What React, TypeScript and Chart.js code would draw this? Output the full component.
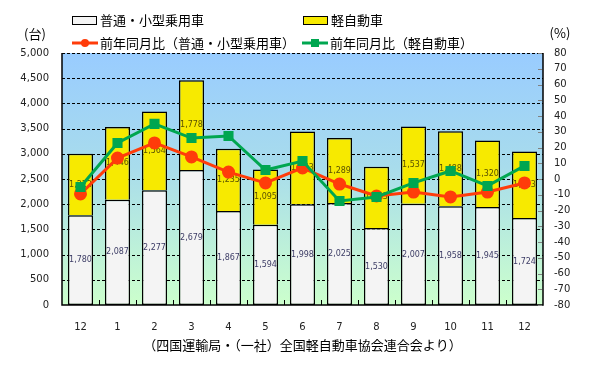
import { useEffect, useRef } from "react";
import { Chart, registerables } from "chart.js";

Chart.register(...registerables);

const months = ["12", "1", "2", "3", "4", "5", "6", "7", "8", "9", "10", "11", "12"];
const passengerCars = [1780, 2087, 2277, 2679, 1867, 1594, 1998, 2025, 1530, 2007, 1958, 1945, 1724];
const keiCars = [1222, 1446, 1564, 1778, 1235, 1095, 1443, 1289, 1213, 1537, 1488, 1320, 1323];
const passengerYoY = [-9.5, 13.3, 22.9, 14.0, 4.4, -2.5, 7.0, -3.2, -10.8, -8.3, -11.4, -8.3, -2.5];
const keiYoY = [-5.1, 22.9, 35.0, 26.0, 27.3, 5.7, 11.4, -14.0, -11.4, -2.5, 5.1, -4.4, 8.3];

const seriesLabels = ["普通・小型乗用車", "軽自動車", "前年同月比（普通・小型乗用車）", "前年同月比（軽自動車）"];
const leftUnit = "(台)";
const rightUnit = "(%)";
const sourceNote = "（四国運輸局・（一社）全国軽自動車協会連合会より）";

const JP = '"Noto Sans CJK JP", sans-serif';
const NUM = '"DejaVu Sans", sans-serif';

const WHITE = "#F4F4F4";
const YELLOW = "#F7EA00";
const RED = "#FF3C0A";
const GREEN = "#00A650";

const decor = {
  id: "decor",
  beforeDatasetsDraw(chart: any) {
    const { ctx, chartArea: a } = chart;
    const g = ctx.createLinearGradient(0, a.top, 0, a.bottom);
    g.addColorStop(0, "#99CCFF");
    g.addColorStop(0.45, "#A8DCEC");
    g.addColorStop(1, "#CCFFCC");
    ctx.save();
    ctx.fillStyle = g;
    ctx.fillRect(a.left, a.top, a.right - a.left, a.bottom - a.top);
    const y = chart.scales.y;
    ctx.strokeStyle = "#000";
    ctx.lineWidth = 1;
    ctx.setLineDash([3, 2]);
    y.ticks.forEach((t: any) => {
      if (t.value <= y.min) return;
      const py = Math.round(y.getPixelForValue(t.value)) + 0.5;
      ctx.beginPath();
      ctx.moveTo(a.left, py);
      ctx.lineTo(a.right, py);
      ctx.stroke();
    });
    ctx.restore();
  },
  afterDatasetDraw(chart: any, args: any) {
    const ds = chart.data.datasets[args.index];
    if (ds.type !== "bar") return;
    const meta = chart.getDatasetMeta(args.index);
    const ctx = chart.ctx;
    ctx.save();
    ctx.font = `8px ${NUM}`;
    ctx.textAlign = "center";
    ctx.textBaseline = "middle";
    ctx.fillStyle = ds.label === seriesLabels[0] ? "#3D3D66" : "#5A5200";
    meta.data.forEach((el: any, i: number) => {
      const y = (el.y + el.base) / 2;
      ctx.fillText(Number(ds.data[i]).toLocaleString("en-US"), el.x, y);
    });
    ctx.restore();
  },
  afterDraw(chart: any) {
    const { ctx, chartArea: a } = chart;
    ctx.save();
    ctx.strokeStyle = "#000";
    ctx.lineWidth = 1.5;
    ctx.beginPath();
    ctx.moveTo(a.left, a.top);
    ctx.lineTo(a.left, a.bottom);
    ctx.lineTo(a.right, a.bottom);
    ctx.lineTo(a.right, a.top);
    ctx.stroke();
    const n = months.length;
    const cw = (a.right - a.left) / n;
    ctx.lineWidth = 1;
    for (let i = 1; i < n; i++) {
      const x = Math.round(a.left + i * cw) + 0.5;
      ctx.beginPath();
      ctx.moveTo(x, a.bottom);
      ctx.lineTo(x, a.bottom - 5);
      ctx.stroke();
    }
    const y1 = chart.scales.y1;
    ctx.strokeStyle = "#808080";
    for (let v = -80; v <= 80; v += 10) {
      const y = Math.round(y1.getPixelForValue(v)) + 0.5;
      ctx.beginPath();
      ctx.moveTo(a.right - 5, y);
      ctx.lineTo(a.right - 1, y);
      ctx.stroke();
    }
    ctx.fillStyle = "#000";
    ctx.font = `13px ${JP}`;
    ctx.textBaseline = "middle";
    ctx.textAlign = "center";
    ctx.fillText(leftUnit, 35, 34);
    ctx.fillText(rightUnit, 560, 33);
    ctx.fillText(sourceNote, (a.left + a.right) / 2, 345);
    ctx.textAlign = "left";
    const items = [
      { kind: "box", color: WHITE, x: 72, y: 20, label: seriesLabels[0] },
      { kind: "box", color: YELLOW, x: 303, y: 20, label: seriesLabels[1] },
      { kind: "circle", color: RED, x: 72, y: 43, label: seriesLabels[2] },
      { kind: "square", color: GREEN, x: 302, y: 43, label: seriesLabels[3] },
    ];
    items.forEach((it) => {
      if (it.kind === "box") {
        ctx.fillStyle = it.color;
        ctx.fillRect(it.x, it.y - 4, 24, 8);
        ctx.strokeStyle = "#000";
        ctx.lineWidth = 1;
        ctx.strokeRect(it.x + 0.5, it.y - 4 + 0.5, 24, 8);
      } else {
        ctx.strokeStyle = it.color;
        ctx.lineWidth = 3;
        ctx.beginPath();
        ctx.moveTo(it.x, it.y);
        ctx.lineTo(it.x + 26, it.y);
        ctx.stroke();
        ctx.fillStyle = it.color;
        if (it.kind === "circle") {
          ctx.beginPath();
          ctx.arc(it.x + 13, it.y, 4, 0, Math.PI * 2);
          ctx.fill();
        } else {
          ctx.fillRect(it.x + 9, it.y - 4, 8, 8);
        }
      }
      ctx.fillStyle = "#000";
      ctx.font = `13px ${JP}`;
      ctx.fillText(it.label, it.x + 28, it.y);
    });
    ctx.restore();
  },
};

export default function App() {
  const ref = useRef<HTMLCanvasElement | null>(null);
  useEffect(() => {
    document.body.style.margin = "0";
    const canvas = ref.current!;
    const chart = new Chart(canvas, {
      type: "bar",
      data: {
        labels: months,
        datasets: [
          {
            type: "line",
            label: seriesLabels[3],
            data: keiYoY,
            yAxisID: "y1",
            borderColor: GREEN,
            backgroundColor: GREEN,
            borderWidth: 3,
            pointStyle: "rect",
            pointRadius: 5,
            pointHoverRadius: 5,
            order: 0,
          } as any,
          {
            type: "line",
            label: seriesLabels[2],
            data: passengerYoY,
            yAxisID: "y1",
            borderColor: RED,
            backgroundColor: RED,
            borderWidth: 3,
            pointStyle: "circle",
            pointRadius: 5,
            pointHoverRadius: 5,
            order: 1,
          } as any,
          {
            type: "bar",
            label: seriesLabels[0],
            data: passengerCars,
            yAxisID: "y",
            backgroundColor: WHITE,
            borderColor: "#000",
            borderWidth: 1.5,
            borderSkipped: false,
            barPercentage: 0.68,
            categoryPercentage: 1,
            order: 2,
          } as any,
          {
            type: "bar",
            label: seriesLabels[1],
            data: keiCars,
            yAxisID: "y",
            backgroundColor: YELLOW,
            borderColor: "#000",
            borderWidth: 1.5,
            borderSkipped: "start",
            barPercentage: 0.68,
            categoryPercentage: 1,
            order: 3,
          } as any,
        ],
      },
      options: {
        animation: false,
        responsive: false,
        maintainAspectRatio: false,
        layout: { padding: { top: 53, left: 0, right: 0, bottom: 0 } },
        plugins: { legend: { display: false }, tooltip: { enabled: false } },
        scales: {
          x: {
            stacked: true,
            offset: true,
            grid: { display: false },
            border: { display: false },
            ticks: { color: "#222", font: { family: NUM, size: 10 }, padding: 8 },
            afterFit: (s: any) => {
              s.height = 64;
            },
          },
          y: {
            stacked: true,
            position: "left",
            min: 0,
            max: 5000,
            ticks: {
              stepSize: 500,
              color: "#222",
              padding: 13,
              font: { family: NUM, size: 10 },
              callback: (v: any) => Number(v).toLocaleString("en-US"),
            },
            grid: { display: false, drawTicks: false },
            border: { display: false },
            afterFit: (s: any) => {
              s.width = 62;
            },
          },
          y1: {
            position: "right",
            min: -80,
            max: 80,
            ticks: {
              stepSize: 10,
              color: "#222",
              padding: 11,
              font: { family: NUM, size: 10 },
            },
            grid: { display: false, drawTicks: false },
            border: { display: false },
            afterFit: (s: any) => {
              s.width = 53;
            },
          },
        },
      },
      plugins: [decor],
    });
    return () => chart.destroy();
  }, []);
  return <canvas ref={ref} width={596} height={369} style={{ display: "block" }} />;
}
